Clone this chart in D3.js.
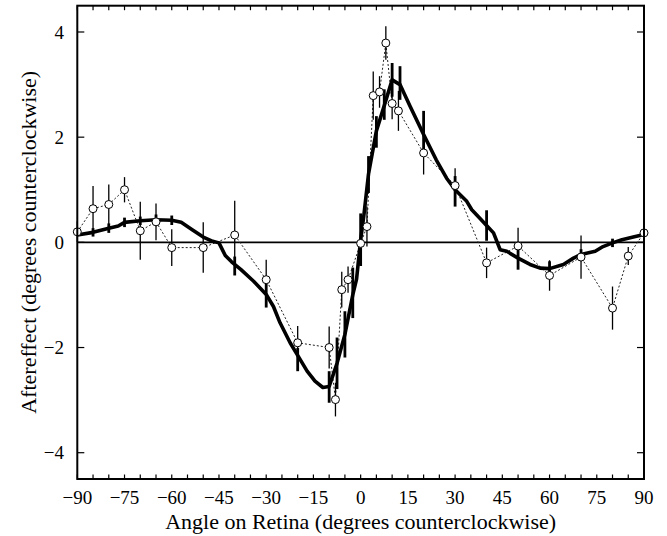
<!DOCTYPE html>
<html>
<head>
<meta charset="utf-8">
<script src="https://cdn.jsdelivr.net/npm/d3@7"></script>
<style>
  html, body { margin: 0; padding: 0; background: #fff; }
  svg { display: block; }
  text { font-family: "Liberation Serif", "Times New Roman", serif; fill: #000; }
</style>
</head>
<body>
<svg id="chart" width="667" height="536"></svg>
<script>
// Measured data (open circles, dotted line)
const dataAngle  = [-90,-85,-80,-75,-70,-65,-60,-50,-40,-30,-20,-10,-8,-6,-4,0,2,4,6,8,10,12,20,30,40,50,60,70,80,85,90];
const dataEffect = [0.2,0.64,0.72,1.0,0.22,0.39,-0.1,-0.1,0.14,-0.71,-1.91,-2.0,-2.99,-0.9,-0.71,-0.02,0.3,2.79,2.86,3.79,2.64,2.5,1.7,1.08,-0.39,-0.07,-0.63,-0.28,-1.25,-0.26,0.18];
const dataErr    = [0.2,0.43,0.38,0.24,0.55,0.35,0.35,0.48,0.65,0.38,0.32,0.4,0.32,0.34,0.25,0.17,0.38,0.46,0.3,0.32,0.3,0.38,0.41,0.33,0.29,0.35,0.29,0.41,0.41,0.17,0.22];

// Model curve (thick line)
const modelAngle  = [-90,-85,-80,-77,-75,-70,-65,-60,-57,-53.5,-50,-47,-45,-43,-41,-38,-34,-30,-27.7,-25.6,-22.4,-20,-17,-14.5,-12,-10,-7.5,-5,-2.5,-1.3,0,1,2.5,5,7.5,10,12.5,15.7,20,24,27.3,30,33.7,35.3,38,40,42.2,44.3,46.4,50,53.8,57,60,64.4,67.6,70,74.5,77,80,83,86.6,90];
const modelEffect = [0.14,0.19,0.27,0.31,0.38,0.41,0.43,0.42,0.38,0.24,0.1,0.02,-0.01,-0.25,-0.37,-0.52,-0.74,-0.99,-1.22,-1.53,-1.91,-2.15,-2.45,-2.64,-2.76,-2.74,-2.3,-1.75,-1.0,-0.7,0.05,0.5,1.3,2.12,2.6,3.09,3.0,2.59,2.05,1.57,1.22,1.0,0.78,0.62,0.45,0.32,0.18,-0.14,-0.17,-0.3,-0.42,-0.49,-0.5,-0.42,-0.3,-0.23,-0.17,-0.08,-0.01,0.05,0.1,0.15];

// Model error bars (thick)
const modelErrAngle  = [-85,-80,-75,-70,-65,-60,-40,-30,-20,-10,-7.5,-5,-2.5,0,2.5,5,7.5,10,12.5,20,30,40,50,60,70,80];
const modelErrCenter = [0.19,0.27,0.38,0.41,0.43,0.42,-0.45,-0.99,-2.23,-2.75,-2.3,-1.75,-0.96,0.05,1.29,2.1,2.62,3.09,3.03,2.1,0.97,0.32,-0.3,-0.5,-0.23,-0.01];
const modelErrHalf   = [0.08,0.09,0.09,0.08,0.1,0.09,0.18,0.25,0.22,0.3,0.49,0.44,0.48,0.5,0.35,0.3,0.29,0.32,0.32,0.4,0.29,0.29,0.22,0.14,0.1,0.08];

const xTickLabels = [-90,-75,-60,-45,-30,-15,0,15,30,45,60,75,90];
const xMinorTicks = d3.range(-90, 91, 5);
const yTickLabels = [-4,-2,0,2,4];

const FONT = "'Liberation Serif', 'Times New Roman', serif";
const svg = d3.select("#chart");
const pL = 77.3, pR = 644, pT = 5.7, pB = 479;
const x = d3.scaleLinear().domain([-90, 90]).range([pL, pR]);
const y = d3.scaleLinear().domain([-4.5, 4.5]).range([pB, pT]);
const fmt = d => d < 0 ? "\u2212" + Math.abs(d) : String(d);

// zero line
svg.append("line").attr("x1", x(-90)).attr("x2", x(90)).attr("y1", y(0)).attr("y2", y(0))
  .attr("stroke", "#000").attr("stroke-width", 1.6);

// ticks (inside)
const tk = svg.append("g").attr("stroke", "#000").attr("stroke-width", 1.2);
xMinorTicks.forEach(v => {
  tk.append("line").attr("x1", x(v)).attr("x2", x(v)).attr("y1", y(-4.5)).attr("y2", y(-4.5) - 4.5);
  tk.append("line").attr("x1", x(v)).attr("x2", x(v)).attr("y1", y(4.5)).attr("y2", y(4.5) + 4.5);
});
yTickLabels.forEach(v => {
  tk.append("line").attr("x1", x(-90)).attr("x2", x(-90) + 7).attr("y1", y(v)).attr("y2", y(v));
  tk.append("line").attr("x1", x(90)).attr("x2", x(90) - 7).attr("y1", y(v)).attr("y2", y(v));
});

// tick labels
svg.append("g").selectAll("text").data(xTickLabels).join("text")
  .attr("x", d => x(d)).attr("y", 504).attr("text-anchor", "middle")
  .attr("font-family", FONT).attr("font-size", 19).text(fmt);
svg.append("g").selectAll("text").data(yTickLabels).join("text")
  .attr("x", 64).attr("y", d => y(d)).attr("dy", "0.35em").attr("text-anchor", "end")
  .attr("font-family", FONT).attr("font-size", 19).text(fmt);

// axis titles
svg.append("text").attr("x", x(0)).attr("y", 529).attr("text-anchor", "middle")
  .attr("font-family", FONT).attr("font-size", 22).text("Angle on Retina (degrees counterclockwise)");
svg.append("text").attr("transform", `translate(36,${y(0)}) rotate(-90)`)
  .attr("text-anchor", "middle").attr("font-family", FONT).attr("font-size", 22)
  .text("Aftereffect (degrees counterclockwise)");

// data dotted line
const pts = dataAngle.map((a, i) => [a, dataEffect[i], dataErr[i]]);
svg.append("path").datum(pts)
  .attr("d", d3.line().x(d => x(d[0])).y(d => y(d[1])))
  .attr("fill", "none").attr("stroke", "#222").attr("stroke-width", 1)
  .attr("stroke-dasharray", "2,2");

// data error bars
svg.append("g").selectAll("line").data(pts).join("line")
  .attr("x1", d => x(d[0])).attr("x2", d => x(d[0]))
  .attr("y1", d => y(d[1] - d[2])).attr("y2", d => y(d[1] + d[2]))
  .attr("stroke", "#000").attr("stroke-width", 1.3);

// model error bars
const mErr = modelErrAngle.map((a, i) => [a, modelErrCenter[i], modelErrHalf[i]]);
svg.append("g").selectAll("line").data(mErr).join("line")
  .attr("x1", d => x(d[0])).attr("x2", d => x(d[0]))
  .attr("y1", d => y(d[1] - d[2])).attr("y2", d => y(d[1] + d[2]))
  .attr("stroke", "#000").attr("stroke-width", 2.8);

// model line
const mPts = modelAngle.map((a, i) => [a, modelEffect[i]]);
svg.append("path").datum(mPts)
  .attr("d", d3.line().x(d => x(d[0])).y(d => y(d[1])))
  .attr("fill", "none").attr("stroke", "#000").attr("stroke-width", 3.6)
  .attr("stroke-linejoin", "round");

// circles
svg.append("g").selectAll("circle").data(pts).join("circle")
  .attr("cx", d => x(d[0])).attr("cy", d => y(d[1])).attr("r", 4)
  .attr("fill", "#fff").attr("stroke", "#000").attr("stroke-width", 1);

// frame
svg.append("rect").attr("x", pL).attr("y", pT).attr("width", pR - pL).attr("height", pB - pT)
  .attr("fill", "none").attr("stroke", "#000").attr("stroke-width", 2);
</script>
</body>
</html>
